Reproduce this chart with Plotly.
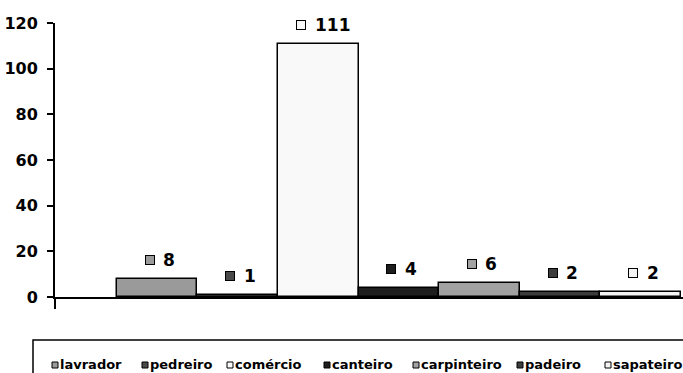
import plotly.graph_objects as go

# --- data -------------------------------------------------------------
categories = ["lavrador", "pedreiro", "comércio", "canteiro",
              "carpinteiro", "padeiro", "sapateiro"]
values = [8, 1, 111, 4, 6, 2, 2]
colors = ["#9a9a9a", "#4a4a4a", "#f9f9f9", "#1e1e1e",
          "#a2a2a2", "#3c3c3c", "#f3f3f3"]
y_ticks = [0, 20, 40, 60, 80, 100, 120]

# --- layout constants --------------------------------------------------
W, H = 683, 373
ML, MR, MT, MB = 55, 0, 23, 76
PW, PH = W - ML - MR, H - MT - MB
X_LO, X_HI = -1.2655, 6.526          # category slots of width 1
FONT = "DejaVu Sans"

def px_x(X):
    return (X - ML) / PW

def px_y(Y):
    return (H - MB - Y) / PH

positions = list(range(len(categories)))

fig = go.Figure()
fig.add_trace(go.Bar(
    x=positions, y=values, width=1,
    marker=dict(color=colors, line=dict(color="black", width=1.5)),
    showlegend=False, hoverinfo="skip",
))

shapes, annotations = [], []

# value labels: a small swatch followed by the number, above each bar
for pos, val, col in zip(positions, values, colors):
    n = len(str(val))
    annotations.append(dict(
        x=pos, y=val, xref="x", yref="y", text=" ",
        showarrow=False, xanchor="center", yanchor="middle",
        width=8, height=8, borderpad=0, borderwidth=1,
        bordercolor="black", bgcolor=col,
        xshift=-7.5 - (n - 1) * 5, yshift=19,
        font=dict(size=4),
    ))
    annotations.append(dict(
        x=pos, y=val, xref="x", yref="y", text=str(val),
        showarrow=False, xanchor="left", yanchor="middle",
        xshift=4 - (n - 1) * 4.5, yshift=19,
        font=dict(family=FONT, size=17, color="black", weight="bold"),
    ))

# legend frame
shapes.append(dict(
    type="rect", xref="paper", yref="paper",
    x0=px_x(33), x1=px_x(720), y0=px_y(340), y1=px_y(420),
    fillcolor="rgba(0,0,0,0)", line=dict(color="black", width=1.5),
    layer="above",
))

# legend entries
legend_x = [52, 142, 227, 324, 413, 517, 605]
for lx, name, col in zip(legend_x, categories, colors):
    shapes.append(dict(
        type="rect", xref="paper", yref="paper",
        x0=px_x(lx), x1=px_x(lx + 6), y0=px_y(368), y1=px_y(362),
        fillcolor=col, line=dict(color="black", width=1),
    ))
    annotations.append(dict(
        x=px_x(lx + 6), y=px_y(364), xref="paper", yref="paper",
        text=name, showarrow=False, xanchor="left", yanchor="middle",
        font=dict(family=FONT, size=13, color="black", weight="bold"),
    ))

fig.update_layout(
    width=W, height=H,
    margin=dict(l=ML, r=MR, t=MT, b=MB, pad=0),
    paper_bgcolor="white", plot_bgcolor="white",
    bargap=0,
    shapes=shapes, annotations=annotations,
    xaxis=dict(
        range=[X_LO, X_HI], showgrid=False, zeroline=False,
        showline=True, linecolor="black", linewidth=2,
        ticks="outside", tickvals=[X_LO], ticklen=10, tickwidth=2,
        tickcolor="black", showticklabels=False, fixedrange=True,
    ),
    yaxis=dict(
        range=[0, 120], tickvals=y_ticks, showgrid=False, zeroline=False,
        showline=True, linecolor="black", linewidth=2,
        ticks="outside", ticklen=6, tickwidth=1.5, tickcolor="black",
        ticklabelstandoff=6,
        tickfont=dict(family=FONT, size=16, color="black", weight="bold"),
        fixedrange=True,
    ),
    showlegend=False,
)

fig.write_html("out.html", config={"displayModeBar": False})
